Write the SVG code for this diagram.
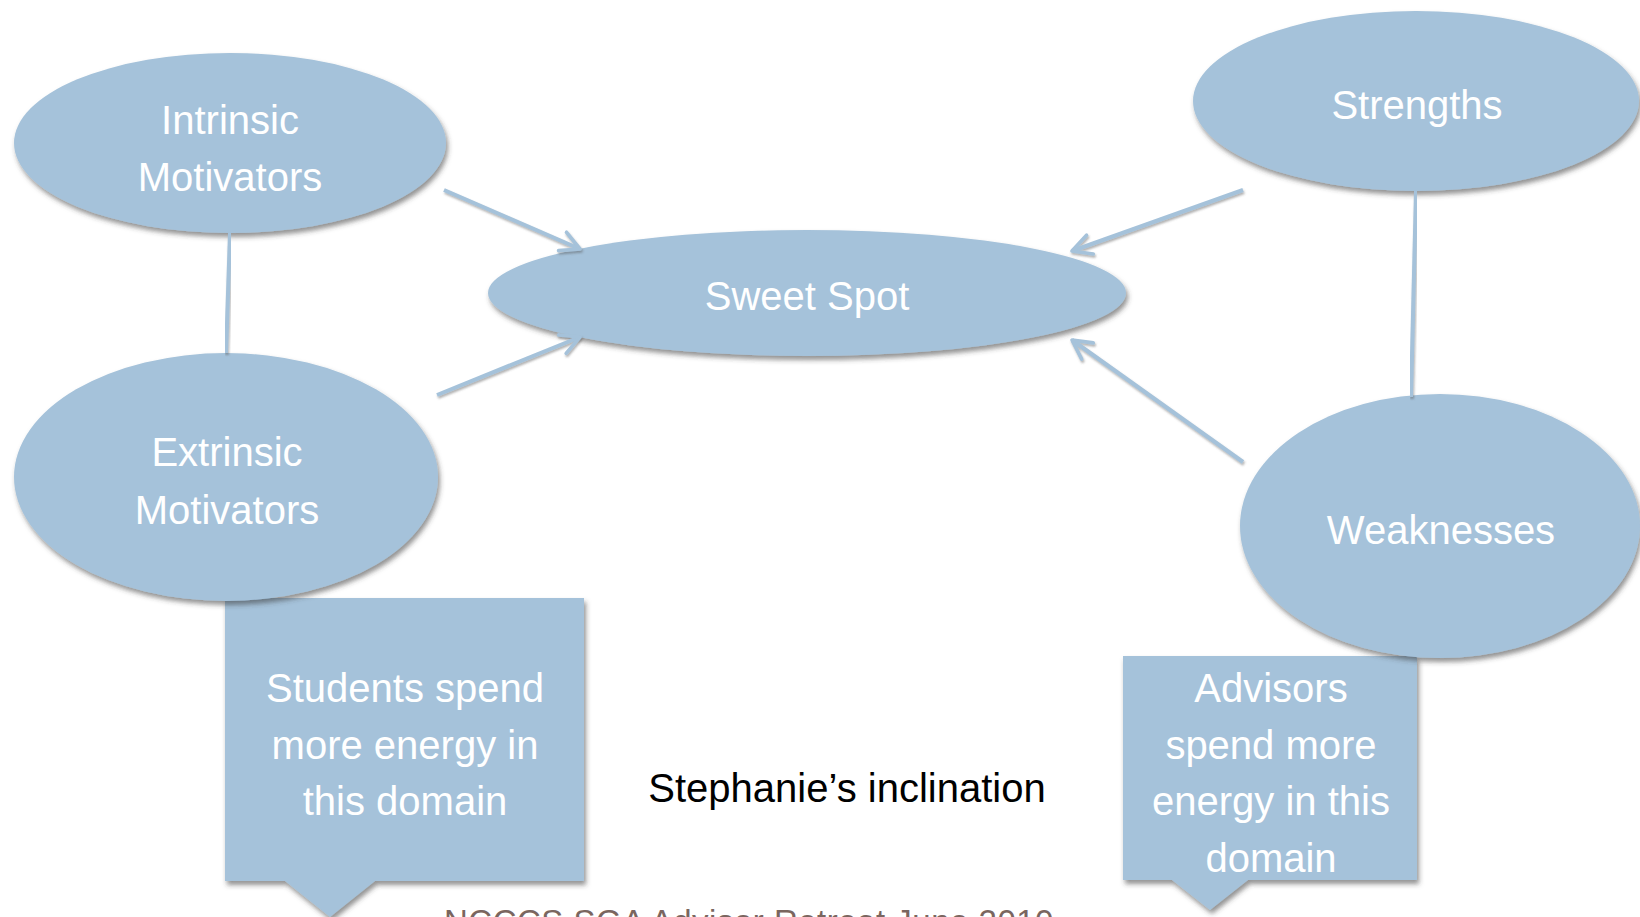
<svg xmlns="http://www.w3.org/2000/svg" width="1640" height="917" viewBox="0 0 1640 917">
<defs>
<filter id="sh" x="-10%" y="-10%" width="125%" height="130%">
<feDropShadow dx="2" dy="4" stdDeviation="2.5" flood-color="#3a3a3a" flood-opacity="0.55"/>
</filter>
<filter id="lsh" x="-10%" y="-10%" width="130%" height="130%">
<feDropShadow dx="1" dy="2" stdDeviation="1.2" flood-color="#555" flood-opacity="0.45"/>
</filter>
<marker id="arr" viewBox="0 0 12 12" refX="10.5" refY="6" markerWidth="24" markerHeight="24" orient="auto" markerUnits="userSpaceOnUse">
<path d="M1,1 L10.5,6 L1,11" fill="none" stroke="#a5c2da" stroke-width="1.8" stroke-linecap="round" stroke-linejoin="round"/>
</marker>
</defs>
<style>
.shape{fill:#a5c2da;filter:url(#sh)}
.lbl{fill:#ffffff;font-family:"Liberation Sans",Arial,sans-serif;font-size:40px;text-anchor:middle}
.conn{stroke:#a5c2da;stroke-width:4;fill:none;filter:url(#lsh)}
</style>

<g id="callout-students">
<path class="shape" d="M225,598 H584 V881 H375 L330,917 L285,881 H225 Z"/>
<text class="lbl" x="405" y="702">Students spend</text>
<text class="lbl" x="405" y="759">more energy in</text>
<text class="lbl" x="405" y="815">this domain</text>
</g>

<g id="callout-advisors">
<path class="shape" d="M1123,656 H1417 V880 H1248 L1210,910 L1172,880 H1123 Z"/>
<text class="lbl" x="1271" y="702">Advisors</text>
<text class="lbl" x="1271" y="759">spend more</text>
<text class="lbl" x="1271" y="815">energy in this</text>
<text class="lbl" x="1271" y="872">domain</text>
</g>

<g id="node-intrinsic">
<ellipse class="shape" cx="230" cy="143" rx="216" ry="90"/>
<text class="lbl" x="230" y="134">Intrinsic</text>
<text class="lbl" x="230" y="191">Motivators</text>
</g>

<g id="node-extrinsic">
<ellipse class="shape" cx="226" cy="477" rx="212" ry="124"/>
<text class="lbl" x="227" y="466">Extrinsic</text>
<text class="lbl" x="227" y="524">Motivators</text>
</g>

<g id="node-sweetspot">
<ellipse class="shape" cx="807" cy="293" rx="319" ry="63"/>
<text class="lbl" x="807" y="310">Sweet Spot</text>
</g>

<g id="node-strengths">
<ellipse class="shape" cx="1416" cy="101" rx="223" ry="90"/>
<text class="lbl" x="1417" y="119">Strengths</text>
</g>

<g id="node-weaknesses">
<ellipse class="shape" cx="1440" cy="526" rx="200" ry="132"/>
<text class="lbl" x="1441" y="544">Weaknesses</text>
</g>

<g id="connectors">
<line class="conn" x1="230" y1="233" x2="226" y2="353"/>
<line class="conn" x1="1416" y1="191" x2="1411" y2="397"/>
<line class="conn" x1="444" y1="190" x2="580" y2="249" marker-end="url(#arr)"/>
<line class="conn" x1="437" y1="395" x2="580" y2="337" marker-end="url(#arr)"/>
<line class="conn" x1="1243" y1="190" x2="1072" y2="251" marker-end="url(#arr)"/>
<line class="conn" x1="1243" y1="462" x2="1072" y2="340" marker-end="url(#arr)"/>
</g>

<g id="caption">
<text x="847" y="802" font-family="Liberation Sans, Arial, sans-serif" font-size="40" fill="#000000" text-anchor="middle">Stephanie’s inclination</text>
</g>

<g id="footer">
<text x="444" y="933" font-family="Liberation Sans, Arial, sans-serif" font-size="33" letter-spacing="0.5" fill="#7a665f">NCCCS SGA Advisor Retreat June 2010</text>
</g>
</svg>
